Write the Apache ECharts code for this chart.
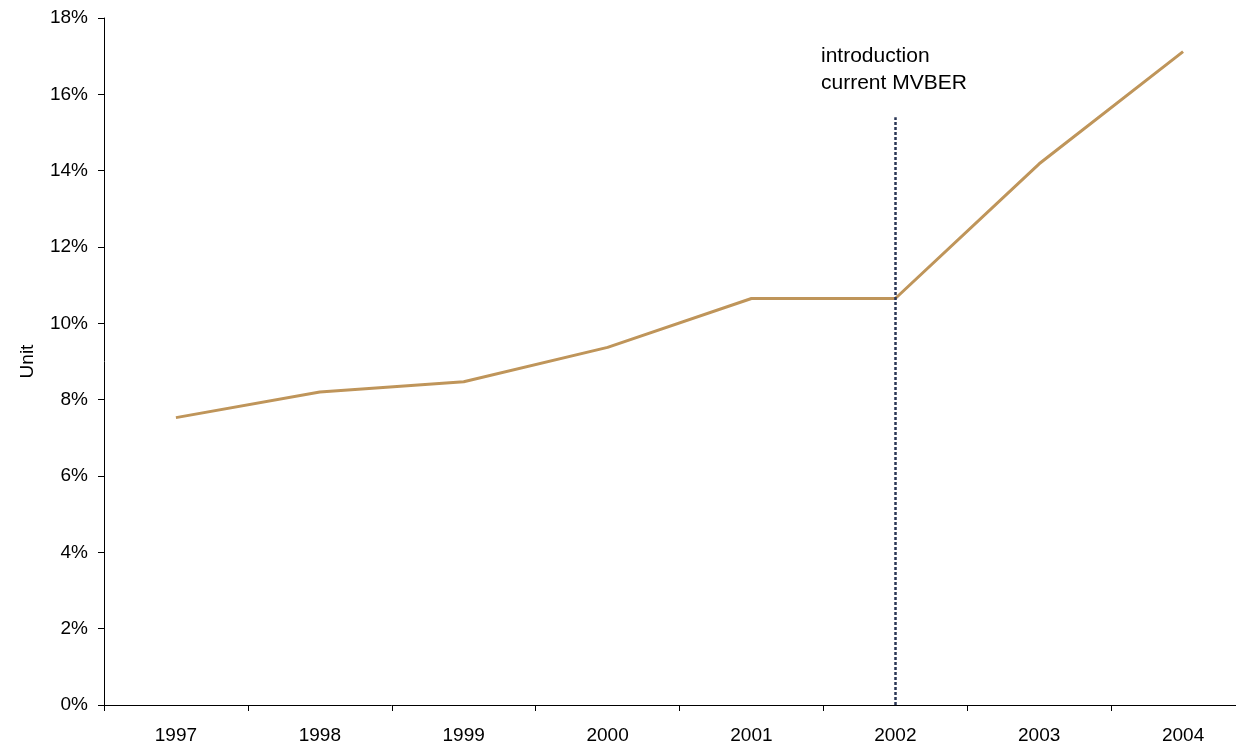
<!DOCTYPE html>
<html>
<head>
<meta charset="utf-8">
<script src="https://cdn.jsdelivr.net/npm/echarts@6/dist/echarts.min.js"></script>
<style>
  html, body { margin: 0; padding: 0; background: #fff; overflow: hidden; }
  #main { width: 1256px; height: 748px; }
</style>
</head>
<body>
<div id="main"></div>
<script>
var years = ['1997', '1998', '1999', '2000', '2001', '2002', '2003', '2004'];
var shareValues = [7.53, 8.2, 8.47, 9.37, 10.65, 10.65, 14.18, 17.12];
var markerYear = '2002';
var markerTop = 15.4;
var noteLines = ['introduction', 'current MVBER'];

var font = 'Liberation Sans, Arial, sans-serif';
var chart = echarts.init(document.getElementById('main'));

chart.setOption({
    animation: false,
    grid: { left: 104, right: 1, top: 18, bottom: 43, containLabel: false },
    xAxis: {
        type: 'category',
        data: years,
        boundaryGap: true,
        axisLine: { lineStyle: { color: '#000', width: 1 } },
        axisTick: { show: true, length: 6, lineStyle: { color: '#000' } },
        axisLabel: { color: '#000', fontSize: 19, fontFamily: font, margin: 21 },
        splitLine: { show: false }
    },
    yAxis: {
        type: 'value',
        min: 0,
        max: 18,
        interval: 2,
        name: 'Unit',
        nameLocation: 'middle',
        nameGap: 67,
        nameTextStyle: { color: '#000', fontSize: 19, fontFamily: font },
        axisLine: { show: true, lineStyle: { color: '#000', width: 1 } },
        axisTick: { show: true, length: 6, lineStyle: { color: '#000' } },
        axisLabel: {
            color: '#000', fontSize: 19, fontFamily: font, margin: 16,
            formatter: function (v) { return v + '%'; }
        },
        splitLine: { show: false }
    },
    graphic: [{
        type: 'text',
        left: 821,
        top: 43,
        style: {
            text: noteLines.join('\n'),
            font: '21px ' + font,
            fill: '#000',
            lineHeight: 27
        }
    }],
    series: [{
        type: 'line',
        data: shareValues,
        symbol: 'none',
        lineStyle: { color: '#BF955A', width: 3 },
        z: 3,
        markLine: {
            silent: true,
            symbol: 'none',
            label: { show: false },
            lineStyle: { color: '#2B3756', type: [3, 2], width: 2.5 },
            data: [[
                { coord: [markerYear, 0] },
                { coord: [markerYear, markerTop] }
            ]],
            z: 4
        }
    }]
});
</script>
</body>
</html>
